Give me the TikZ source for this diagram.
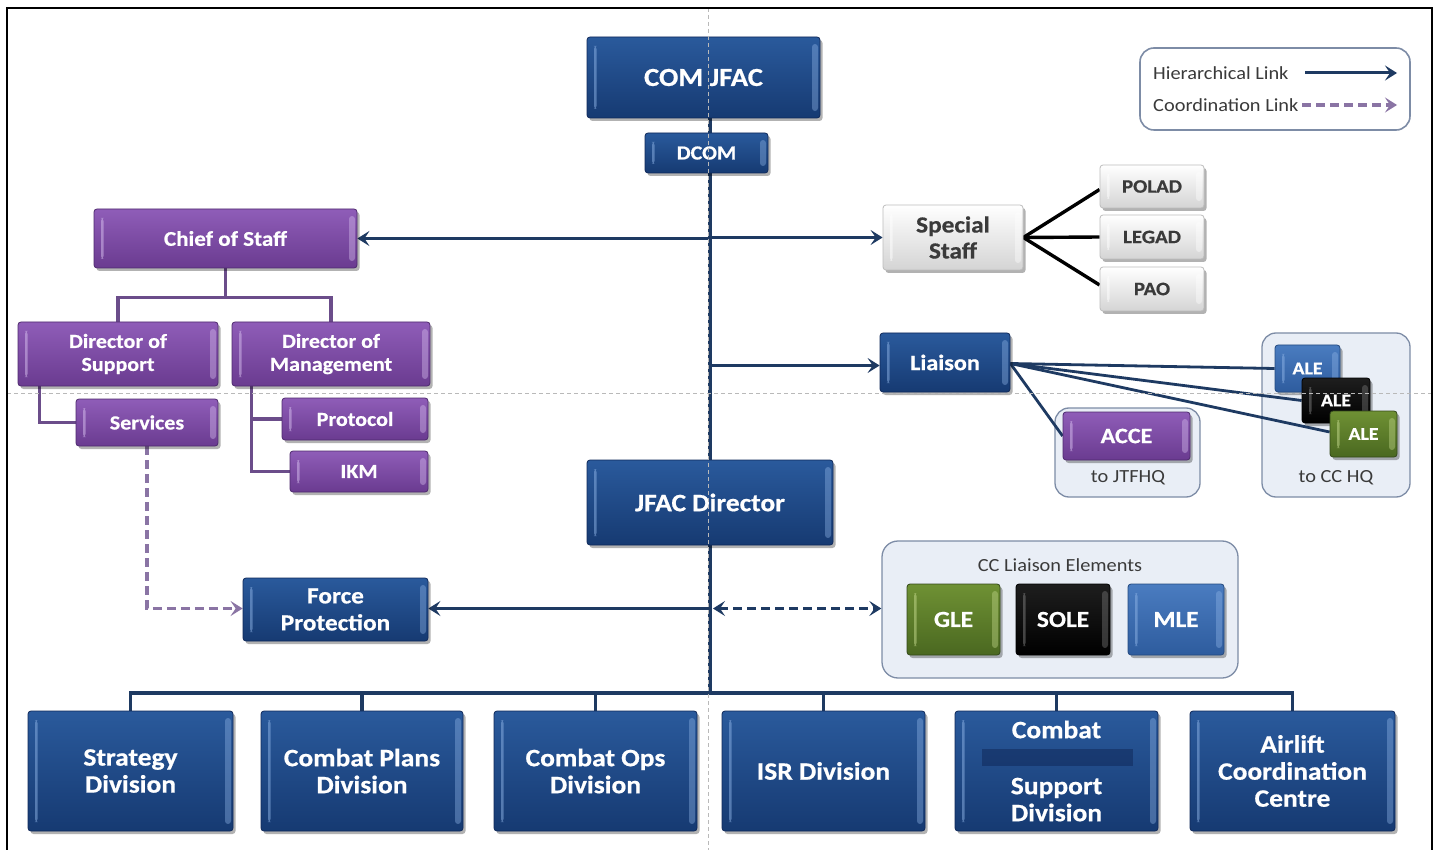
\documentclass[tikz,border=0pt]{standalone}
\usepackage{fontspec}
\newfontfamily\tilefont{Carlito}[FakeStretch=1.1, BoldFeatures={FakeBold=0.6}]
\usetikzlibrary{arrows.meta,shadows,calc}

\pgfdeclarelayer{paper}
\pgfdeclarelayer{bg}
\pgfdeclarelayer{links}
\pgfdeclarelayer{guides}
\pgfsetlayers{paper,bg,links,main,guides}

% tile colours
\definecolor{navyTop}{HTML}{2A5A9C}
\definecolor{navyBot}{HTML}{163A72}
\definecolor{navyEdge}{HTML}{10295A}
\definecolor{navyHi}{HTML}{8FB4E6}
\definecolor{purTop}{HTML}{8F5DB8}
\definecolor{purBot}{HTML}{6A3B90}
\definecolor{purEdge}{HTML}{4E2A6E}
\definecolor{purHi}{HTML}{D9C2F0}
\definecolor{greyTop}{HTML}{FFFFFF}
\definecolor{greyBot}{HTML}{D4D4D4}
\definecolor{greyEdge}{HTML}{BDBDBD}
\definecolor{grnTop}{HTML}{6F9134}
\definecolor{grnBot}{HTML}{4A6820}
\definecolor{grnEdge}{HTML}{34491A}
\definecolor{grnHi}{HTML}{C6DB8F}
\definecolor{blkTop}{HTML}{1E1E1E}
\definecolor{blkBot}{HTML}{000000}
\definecolor{midTop}{HTML}{4A7CC0}
\definecolor{midBot}{HTML}{2E5C9E}
\definecolor{midEdge}{HTML}{244A80}
% connector and panel colours
\definecolor{linkNavy}{HTML}{1E3A62}
\definecolor{linkPur}{HTML}{6B4D8A}
\definecolor{coordPur}{HTML}{8A74A4}
\definecolor{boxFill}{HTML}{E9EEF6}
\definecolor{boxEdge}{HTML}{7D8CA6}
\definecolor{labelGrey}{HTML}{3A3A3A}

\tikzset{
  bevel/.style={path picture={
    \fill[#1,opacity=0.5] ([shift={(7pt,9pt)}]path picture bounding box.south west)
      rectangle ([shift={(9.5pt,-9pt)}]path picture bounding box.north west);
    \fill[#1,opacity=0.4] ([shift={(-8pt,7pt)}]path picture bounding box.south east)
      rectangle ([shift={(-2pt,-7pt)}]path picture bounding box.north east);
  }},
  tile/.style={rectangle, rounded corners=3pt, inner sep=0pt, align=center, line width=0.8pt,
    drop shadow={shadow xshift=2.5pt, shadow yshift=-3pt, opacity=0.3, fill=black}},
  fs/.style 2 args={font=\tilefont\bfseries\fontsize{#1}{#2}\selectfont},
  navytile/.style={tile, top color=navyTop, bottom color=navyBot, draw=navyEdge, text=white, bevel=navyHi},
  purtile/.style={tile, top color=purTop, bottom color=purBot, draw=purEdge, text=white, bevel=purHi},
  greytile/.style={tile, top color=greyTop, bottom color=greyBot, draw=greyEdge, text=labelGrey, bevel=white},
  grntile/.style={tile, top color=grnTop, bottom color=grnBot, draw=grnEdge, text=white, bevel=grnHi},
  blktile/.style={tile, top color=blkTop, bottom color=blkBot, draw=black, text=white, bevel=gray},
  midtile/.style={tile, top color=midTop, bottom color=midBot, draw=midEdge, text=white, bevel=navyHi},
  panel/.style={rectangle, rounded corners=14pt, draw=boxEdge, line width=1.3pt, fill=boxFill, inner sep=0pt},
  plain/.style={font=\tilefont\fontsize{18.5}{20}\selectfont, text=labelGrey, inner sep=0pt},
  tip/.style={-{Stealth[length=12pt,width=15pt,inset=5pt]}},
  hier/.style={draw=linkNavy, line width=3pt, tip},
  trunk/.style={draw=linkNavy, line width=3.8pt},
  fan/.style={draw=linkNavy, line width=2.8pt},
  staffline/.style={draw=black, line width=3.4pt},
  purline/.style={draw=linkPur, line width=3.4pt},
  coord/.style={draw=coordPur, line width=3.4pt, dash pattern=on 9pt off 5pt,
    -{Stealth[length=12pt,width=15pt,inset=5pt]}},
  navycoord/.style={draw=linkNavy, line width=3pt, dash pattern=on 9pt off 5pt,
    {Stealth[length=12pt,width=15pt,inset=5pt]}-{Stealth[length=12pt,width=15pt,inset=5pt]}},
  guide/.style={draw=gray!55, line width=0.7pt, dash pattern=on 4pt off 3pt}
}

\begin{document}
\begin{tikzpicture}[x=1pt,y=-1pt]
\useasboundingbox (0,0) rectangle (1438,850);
\begin{pgfonlayer}{paper}
  \fill[white] (0,0) rectangle (1438,850);
\end{pgfonlayer}

% ---------- command element ----------
\node[navytile, fs={26}{28}, minimum width=233, minimum height=81] (com) at (703.5,77.5) {COM JFAC};
\node[navytile, fs={20}{22}, minimum width=123, minimum height=40] (dcom) at (706.5,153) {DCOM};
\node[navytile, fs={25}{27}, minimum width=246, minimum height=85] (jfac) at (710,502.5) {JFAC Director};

% ---------- chief of staff branch ----------
\node[purtile, fs={21}{23}, minimum width=263, minimum height=59] (cos) at (225.5,238.5) {Chief of Staff};
\node[purtile, fs={20}{23}, minimum width=200, minimum height=64] (dos) at (118,354) {Director of\\Support};
\node[purtile, fs={20}{23}, minimum width=198, minimum height=64] (dom) at (331,354) {Director of\\Management};
\node[purtile, fs={20}{22}, minimum width=142, minimum height=47] (serv) at (147,422.5) {Services};
\node[purtile, fs={20}{22}, minimum width=146, minimum height=42] (prot) at (355,419) {Protocol};
\node[purtile, fs={20}{22}, minimum width=138, minimum height=41] (ikm) at (359,471.5) {IKM};

\node[navytile, fs={23}{27}, minimum width=185, minimum height=63] (fp) at (335.5,609.5) {Force\\Protection};

% ---------- special staff ----------
\node[greytile, fs={23}{26}, minimum width=140, minimum height=65] (sst) at (953,237.5) {Special\\Staff};
\node[greytile, fs={19}{21}, minimum width=104, minimum height=43] (polad) at (1152,186.5) {POLAD};
\node[greytile, fs={19}{21}, minimum width=104, minimum height=44] (legad) at (1152,237) {LEGAD};
\node[greytile, fs={19}{21}, minimum width=104, minimum height=44] (pao) at (1152,289) {PAO};

% ---------- liaison ----------
\node[navytile, fs={22}{24}, minimum width=130, minimum height=59] (lia) at (945,362.5) {Liaison};

\begin{pgfonlayer}{bg}
  \node[panel, minimum width=145, minimum height=89] (jtf) at (1127.5,452.5) {};
  \node[panel, minimum width=148, minimum height=164] (cchq) at (1336,415) {};
  \node[panel, minimum width=356, minimum height=137, rounded corners=16pt] (ccle) at (1060,609.5) {};
\end{pgfonlayer}
\node[plain] (jtflabel) at (1128,478) {to JTFHQ};
\node[plain] (cchqlabel) at (1336,478) {to CC HQ};
\node[plain] (cclelabel) at (1060,565) {CC Liaison Elements};

\node[purtile, fs={22}{24}, minimum width=127, minimum height=48] (acce) at (1126.5,436) {ACCE};
\node[midtile, fs={18}{20}, minimum width=65, minimum height=47] (ale1) at (1307.5,368.5) {ALE};
\node[blktile, fs={18}{20}, minimum width=68, minimum height=45] (ale2) at (1336,400.5) {ALE};
\node[grntile, fs={18}{20}, minimum width=67, minimum height=46] (ale3) at (1363.5,434) {ALE};

\node[grntile, fs={23}{25}, minimum width=93, minimum height=71] (gle) at (953.5,619.5) {GLE};
\node[blktile, fs={23}{25}, minimum width=94, minimum height=71] (sole) at (1063,619.5) {SOLE};
\node[midtile, fs={23}{25}, minimum width=96, minimum height=71] (mle) at (1176,619.5) {MLE};

% ---------- divisions ----------
\node[navytile, fs={25}{27}, minimum width=205, minimum height=120] (d1) at (130.5,771) {Strategy\\Division};
\node[navytile, fs={25}{27}, minimum width=202, minimum height=120] (d2) at (362,771) {Combat Plans\\Division};
\node[navytile, fs={25}{27}, minimum width=203, minimum height=120] (d3) at (595.5,771) {Combat Ops\\Division};
\node[navytile, fs={25}{27}, minimum width=203, minimum height=120] (d4) at (823.5,771) {ISR Division};
\node[navytile, fs={25}{27}, minimum width=203, minimum height=120] (d5) at (1056.5,771) {Combat\\[29pt]Support\\Division};
\fill[navyEdge, opacity=0.55] (982,749) rectangle (1133,766);
\node[navytile, fs={25}{27}, minimum width=205, minimum height=120] (d6) at (1292.5,771) {Airlift\\Coordination\\Centre};

% ---------- legend ----------
\begin{pgfonlayer}{bg}
  \node[rectangle, rounded corners=14pt, draw=boxEdge, line width=1.6pt, fill=white,
        minimum width=270, minimum height=82] (legend) at (1275,89) {};
\end{pgfonlayer}
\node[plain, anchor=west] (lhier) at (1153,73) {Hierarchical Link};
\node[plain, anchor=west] (lcoord) at (1153,105) {Coordination Link};
\coordinate (lh1) at (1305,73);
\coordinate (lh2) at (1397,73);
\coordinate (lc1) at (1302,105);
\coordinate (lc2) at (1397,105);

% ---------- connectors ----------
\begin{pgfonlayer}{links}
  \coordinate (bus) at (710,693);
  % main vertical spine
  \draw[trunk] (jfac |- com.south) -- (jfac |- bus);
  % divisions bus
  \draw[trunk] (d1.north) -- (d1.north |- bus) -- (d6.north |- bus) -- (d6.north);
  \foreach \d in {d2,d3,d4,d5} \draw[trunk] (\d.north) -- (\d.north |- bus);
  % links off the spine
  \draw[hier] (jfac |- cos.east) -- (cos.east);
  \draw[hier] (jfac |- sst.west) -- (sst.west);
  \draw[hier] ([yshift=-3pt]jfac |- lia.west) -- ([yshift=-3pt]lia.west);
  \draw[hier] ([yshift=1pt]jfac |- fp.east) -- ([yshift=1pt]fp.east);
  \draw[navycoord] ([xshift=3pt,yshift=1pt]jfac |- ccle.west) -- ([yshift=1pt]ccle.west);
  % special staff fan
  \draw[staffline] (sst.east) -- ([yshift=-3pt]polad.west);
  \draw[staffline] (sst.east) -- (legad.west);
  \draw[staffline] (sst.east) -- ([yshift=4pt]pao.west);
  % liaison fan
  \draw[fan] ([yshift=-1pt]lia.east) -- (ale1.west);
  \draw[fan] ([yshift=-1pt]lia.east) -- (ale2.west);
  \draw[fan] ([yshift=-1pt]lia.east) -- ([yshift=2pt]ale3.west);
  \draw[fan] ([yshift=-1pt]lia.east) -- (acce.west);
  % chief of staff tree
  \draw[purline] (cos.south) -- ++(0,29) coordinate (costee);
  \draw[purline] (dos.north) |- (costee) -| (dom.north);
  \draw[purline] ([xshift=22pt]dos.south west) |- (serv.west);
  \draw[purline] ([xshift=20pt]dom.south west) |- (prot.west);
  \draw[purline] ([xshift=20pt]dom.south west) |- (ikm.west);
  \draw[coord] (serv.south) |- ([yshift=1pt]fp.west);
  % legend samples
  \draw[hier] (lh1) -- (lh2);
  \draw[coord] (lc1) -- (lc2);
\end{pgfonlayer}

% ---------- frame and layout guides ----------
\begin{pgfonlayer}{guides}
  \draw[guide] (708,8) -- (708,850);
  \draw[guide] (7,393) -- (1432,393);
  \draw[black, line width=1.6pt] (7,8) rectangle (1432,880);
\end{pgfonlayer}
\end{tikzpicture}
\end{document}
